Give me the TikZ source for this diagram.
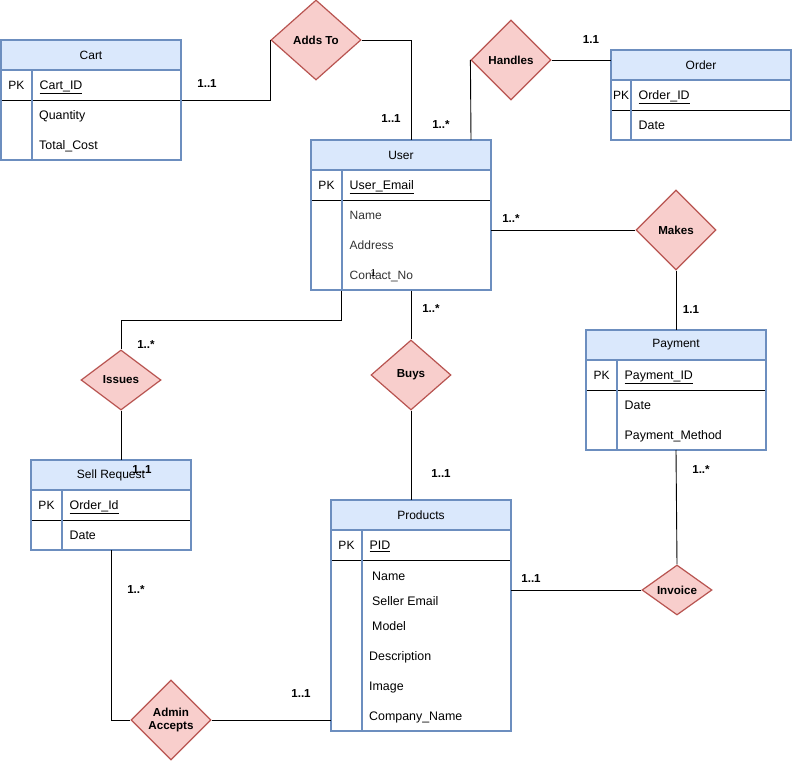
\documentclass[tikz,border=0pt]{standalone}
\usepackage{fontspec}
\setmainfont{Liberation Sans}
\usetikzlibrary{shapes.geometric,calc}

\definecolor{tblue}{HTML}{6C8EBF}
\definecolor{hblue}{HTML}{DAE8FC}
\definecolor{dred}{HTML}{B85450}
\definecolor{dfill}{HTML}{F8CECC}

\tikzset{
  tabback/.style={draw=none, fill=white, inner sep=0pt, outer sep=0pt},
  tabhead/.style={fill=hblue, inner sep=0pt, outer sep=0pt, minimum height=30pt,
    font=\fontsize{12}{14}\selectfont},
  tabborder/.style={draw=tblue, line width=1.6pt},
  keyline/.style={draw=black, line width=0.9pt},
  pkcell/.style={inner sep=0pt, font=\fontsize{12}{14}\selectfont},
  field/.style={anchor=base west, inner sep=0pt, font=\fontsize{12.4}{14}\selectfont},
  lightfield/.style={field, text=black!80, font=\fontsize{12}{14}\selectfont},
  relship/.style={diamond, draw=dred, fill=dfill, line width=1.2pt, inner sep=0pt,
    align=center, font=\bfseries\fontsize{11.6}{13.5}\selectfont},
  conn/.style={draw=black, line width=0.9pt},
  card/.style={inner sep=0pt, font=\bfseries\fontsize{11.6}{14}\selectfont},
}

% #1 name, #2 left, #3 top, #4 width, #5 key column width, #6 height, #7 title, #8 key attribute
\newcommand\ertable[8]{%
  \node[tabback, anchor=north west, minimum width=#4pt, minimum height=#6pt] (#1) at (#2,#3) {};
  \node[tabhead, anchor=north west, minimum width=#4pt] (#1-head) at (#2,#3) {#7};
  \draw[tabborder] (#1-head.south west) -- (#1-head.south east);
  \draw[keyline] ($(#1.north west)+(0,-60pt)$) -- ($(#1.north east)+(0,-60pt)$);
  \draw[tabborder] ($(#1-head.south west)+(#5pt,0)$) -- ($(#1.south west)+(#5pt,0)$);
  \draw[tabborder] (#1.north west) rectangle (#1.south east);
  \node[pkcell] (#1-pk) at ($(#1.north west)+({0.5*#5pt},-45pt)$) {PK};
  \node[field] (#1-key) at ($(#1.north west)+({#5pt+7.5pt},-49.4pt)$) {\underline{#8}};
}

\begin{document}
\begin{tikzpicture}[x=1pt, y=-1pt]
  \useasboundingbox[fill=white] (0,0) rectangle (793,762);

  % ---------- entities ----------
  \ertable{cart}{1}{40}{180}{31}{120}{Cart}{Cart\_ID}
  \node[field] (cart-qty) at (39,119.4) {Quantity};
  \node[field] (cart-cost) at (39,149.4) {Total\_Cost};

  \ertable{user}{311}{140}{180}{31}{150}{User}{User\_Email}
  \node[lightfield] (user-name) at (349.5,219.3) {Name};
  \node[lightfield] (user-addr) at (349.5,249.3) {Address};
  \node[lightfield] (user-phone) at (349.5,279.3) {Contact\_No};
  \node[inner sep=0pt, font=\fontsize{10}{12}\selectfont] (user-stray) at (373.5,273) {1};

  \ertable{order}{611}{50}{180}{20}{90}{Order}{Order\_ID}
  \node[field] (order-date) at (638.5,129.4) {Date};

  \ertable{payment}{586}{330}{180}{31}{120}{Payment}{Payment\_ID}
  \node[field] (pay-date) at (624.5,409.4) {Date};
  \node[field] (pay-method) at (624.5,439.4) {Payment\_Method};

  \ertable{sellreq}{31}{460}{160}{31}{90}{Sell Request}{Order\_Id}
  \node[field] (sell-date) at (69.5,539.4) {Date};

  \ertable{products}{331}{500}{180}{31}{231}{Products}{PID}
  \node[field] (prod-name) at (372,580.4) {Name};
  \node[field] (prod-seller) at (372,605.4) {Seller Email};
  \node[field] (prod-model) at (372,630.4) {Model};
  \node[field] (prod-desc) at (369,660.4) {Description};
  \node[field] (prod-image) at (369,690.4) {Image};
  \node[field] (prod-company) at (369,720.4) {Company\_Name};

  % ---------- relationships ----------
  \node[relship, minimum width=90pt, minimum height=80pt] (addsto) at (316,40) {Adds To};
  \node[relship, minimum width=80pt, minimum height=80pt] (handles) at (511,60) {Handles};
  \node[relship, minimum width=80pt, minimum height=80pt] (makes) at (676,230) {Makes};
  \node[relship, minimum width=80pt, minimum height=70pt] (buys) at (411,375) {Buys};
  \node[relship, minimum width=80pt, minimum height=60pt] (issues) at (121,380) {Issues};
  \node[relship, minimum width=70pt, minimum height=50pt] (invoice) at (677,590) {Invoice};
  \node[relship, minimum width=80pt, minimum height=80pt] (admin) at (171,720) {Admin\\Accepts};

  % ---------- attachment points on entity borders ----------
  \coordinate (cart-out) at (182,100);
  \coordinate (user-top-a) at (411,140);
  \coordinate (user-top-b) at (471,140);
  \coordinate (user-right) at (491,230);
  \coordinate (user-bot-a) at (411,291);
  \coordinate (user-bot-b) at (341,291);

  % ---------- connectors ----------
  \draw[conn] (cart-out) -| (addsto.west);
  \draw[conn] (addsto.east) -| (user-top-a);
  \draw[conn] (user-top-b) -- (handles.west);
  \draw[conn] (handles.east) -- (handles.east -| order.west);
  \draw[conn] (user-right) -- (makes.west);
  \draw[conn] (makes.south) -- (makes.south |- payment.north);
  \draw[conn] (payment.south) -- (invoice.north);
  \draw[conn] (invoice.west) -- (invoice.west -| products.east);
  \draw[conn] (user-bot-a) -- (buys.north);
  \draw[conn] (buys.south) -- (buys.south |- products.north);
  \draw[conn] (user-bot-b) -- ++(0,29) -| (issues.north);
  \draw[conn] (issues.south) -- (issues.south |- sellreq.north);
  \draw[conn] (sellreq.south) |- (admin.west);
  \draw[conn] (admin.east) -- (admin.east -| products.west);

  % ---------- cardinalities ----------
  \node[card] (k1) at (207,84) {1..1};
  \node[card] (k2) at (391,119) {1..1};
  \node[card] (k3) at (441,125) {1..*};
  \node[card] (k4) at (591,40) {1.1};
  \node[card] (k5) at (511,219) {1..*};
  \node[card] (k6) at (691,310) {1.1};
  \node[card] (k7) at (431,309) {1..*};
  \node[card] (k8) at (146,345) {1..*};
  \node[card] (k9) at (142,470) {1..1};
  \node[card] (k10) at (701,470) {1..*};
  \node[card] (k11) at (441,474) {1..1};
  \node[card] (k12) at (531,579) {1..1};
  \node[card] (k13) at (136,590) {1..*};
  \node[card] (k14) at (301,694) {1..1};
\end{tikzpicture}
\end{document}
